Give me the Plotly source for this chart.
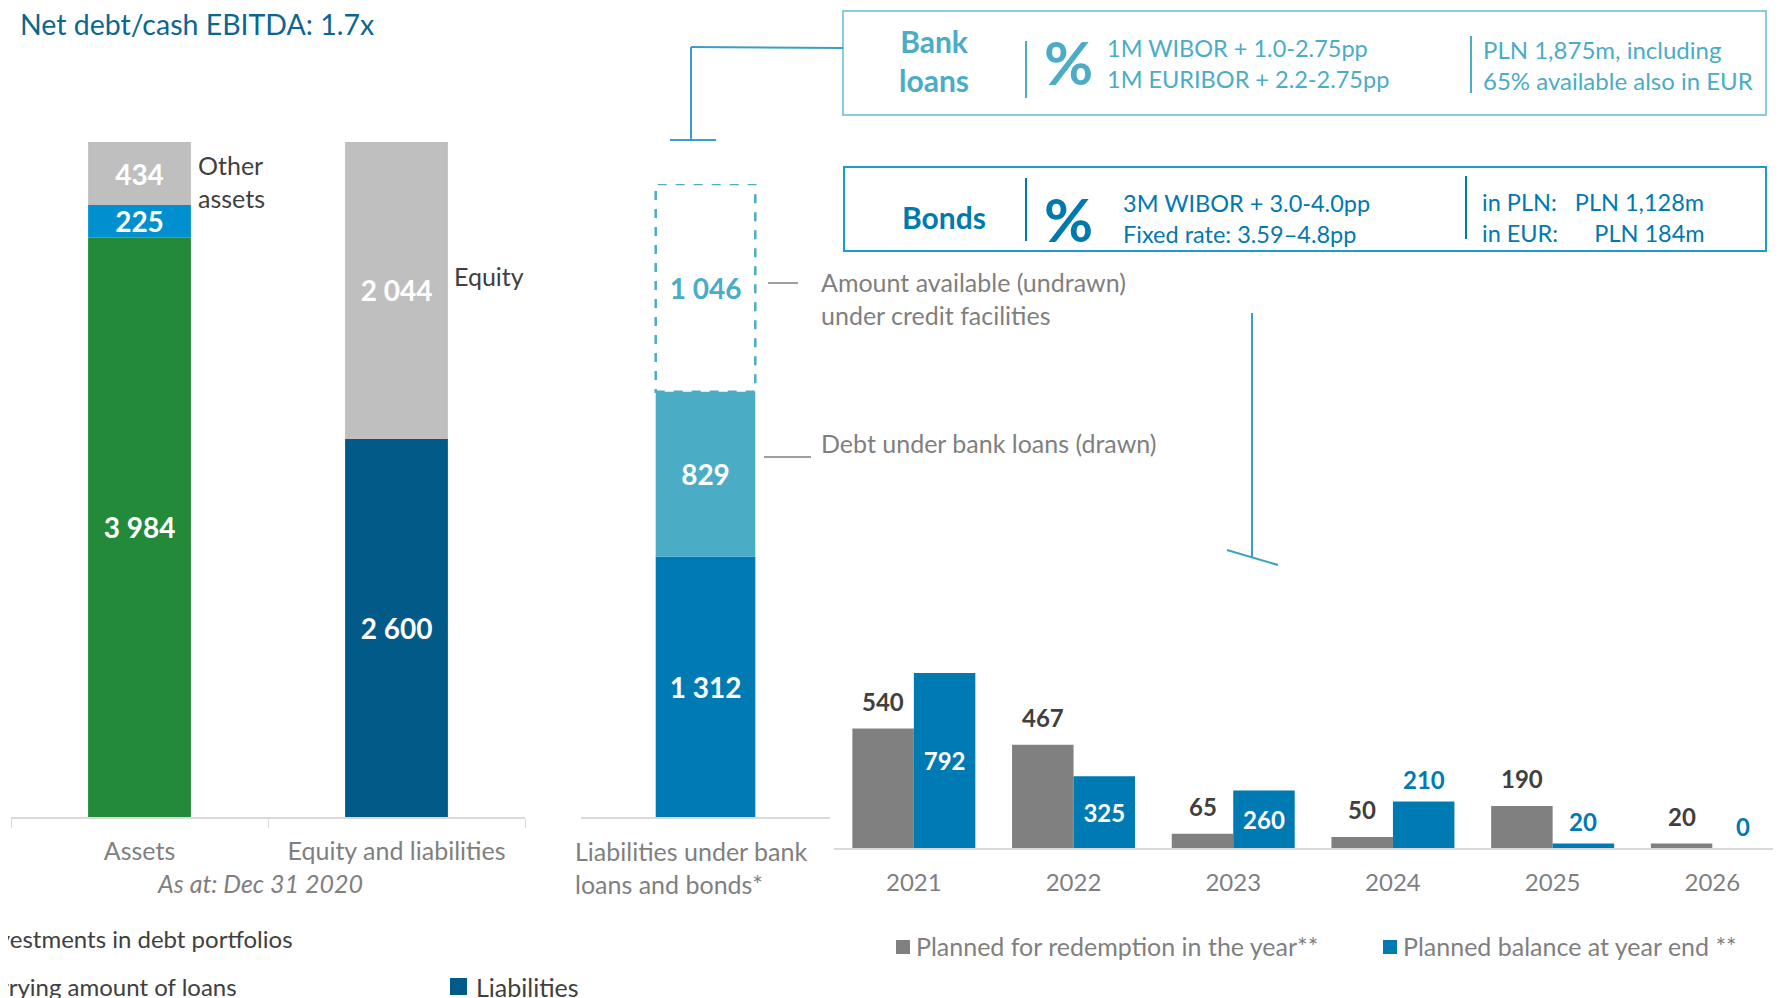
import plotly.graph_objects as go

# the page body keeps an 8px margin, so the figure is drawn 8px smaller and shifted
PAD = 8
W, H = 1781 - PAD, 998 - PAD
FONT = "Lato"

# balance sheet, PLN m, as at Dec 31 2020
bs_categories = ["Assets", "Equity and liabilities"]
asset_names = ["Investments in debt portfolios", "Carrying amount of loans", "Other assets"]
asset_values = [3984, 225, 434]
asset_colors = ["#238A3A", "#0090D0", "#BFBFBF"]
eq_names = ["Liabilities", "Equity"]
eq_values = [2600, 2044]
eq_colors = ["#015A87", "#BFBFBF"]

# liabilities under bank loans and bonds
debt_category = ["Liabilities under bank loans and bonds*"]
debt_names = ["Bonds", "Debt under bank loans (drawn)", "Amount available (undrawn) under credit facilities"]
debt_values = [1312, 829, 1046]
debt_colors = ["#007AB3", "#4BACC6", "rgba(0,0,0,0)"]

# redemption schedule
years = ["2021", "2022", "2023", "2024", "2025", "2026"]
redemption = [540, 467, 65, 50, 190, 20]
balance = [792, 325, 260, 210, 20, 0]


def fmt(v):
    return f"{v:,}".replace(",", " ")


def px(x):
    return (x - PAD) / W


def py(y):
    return 1 - (y - PAD) / H


fig = go.Figure()

val_font = dict(family=FONT, size=28, color="white", weight="bold")


def stack(category, names, values, colors, text_colors, xa, ya):
    # segments are stacked by hand so the grouped chart on the right is unaffected
    bottom = 0
    for name, v, c, tc in zip(names, values, colors, text_colors):
        fig.add_trace(go.Bar(
            x=[category], y=[v], base=[bottom], name=name, marker=dict(color=c, line_width=0),
            text=[fmt(v)], textposition="inside", insidetextanchor="middle", constraintext="none",
            textfont=dict(val_font, color=tc), width=0.4, offset=-0.2,
            xaxis=xa, yaxis=ya, hoverinfo="skip",
        ))
        bottom += v


stack(bs_categories[0], asset_names, asset_values, asset_colors, ["white"] * 3, "x", "y")
stack(bs_categories[1], eq_names, eq_values, eq_colors, ["white"] * 2, "x", "y")
stack(debt_category[0], debt_names, debt_values, debt_colors, ["white", "white", "#4BACC6"], "x2", "y2")

base = sum(debt_values[:2])
fig.add_shape(type="rect", xref="x2", yref="y2", x0=-0.2, x1=0.2, y0=base,
              y1=base + debt_values[2], line=dict(color="#4BACC6", width=2.5, dash="dash"))

# ---- right: redemption schedule (grouped pair)
BW = 0.385
fig.add_trace(go.Bar(
    x=years, y=redemption, name="Planned for redemption in the year**",
    marker=dict(color="#808080", line_width=0), width=BW, offset=-BW,
    xaxis="x3", yaxis="y3", hoverinfo="skip",
))
inside = [v >= 250 for v in balance]
fig.add_trace(go.Bar(
    x=years, y=balance, name="Planned balance at year end **",
    marker=dict(color="#007AB3", line_width=0), width=BW, offset=0,
    text=[fmt(v) if ok else "" for v, ok in zip(balance, inside)],
    textposition="inside", insidetextanchor="middle", constraintext="none",
    textfont=dict(family=FONT, size=24, color="white", weight="bold"),
    xaxis="x3", yaxis="y3", hoverinfo="skip",
))
for i, v in enumerate(redemption):
    fig.add_annotation(x=i - BW / 2, y=v, xref="x3", yref="y3", text=fmt(v), showarrow=False,
                       yanchor="middle", yshift=27,
                       font=dict(family=FONT, size=24, color="#404040", weight="bold"))
for i, (v, ok) in enumerate(zip(balance, inside)):
    if not ok:
        fig.add_annotation(x=i + BW / 2, y=v, xref="x3", yref="y3", text=fmt(v), showarrow=False,
                           yanchor="middle", yshift=22,
                           font=dict(family=FONT, size=24, color="#007AB3", weight="bold"))


def note(x, y, text, size, color, xanchor="left", bold=False, italic=False, align="left"):
    fig.add_annotation(
        x=px(x), y=py(y), xref="paper", yref="paper", text=text, showarrow=False,
        xanchor=xanchor, yanchor="middle", align=align,
        font=dict(family=FONT, size=size, color=color,
                  weight="bold" if bold else "normal", style="italic" if italic else "normal"),
    )


def line(x0, y0, x1, y1, color, width=1.5, dash="solid"):
    fig.add_shape(type="line", xref="paper", yref="paper", x0=px(x0), y0=py(y0), x1=px(x1), y1=py(y1),
                  line=dict(color=color, width=width, dash=dash))


def square(x0, y0, size, color):
    fig.add_shape(type="rect", xref="paper", yref="paper", x0=px(x0), y0=py(y0 + size),
                  x1=px(x0 + size), y1=py(y0), line_width=0, fillcolor=color)


GRAY_TXT = "#7F7F7F"
DARK_TXT = "#404040"

# titles and side notes
note(18, 24, "Net debt/cash EBITDA: 1.7x", 28.5, "#0B6690")
note(196, 181, "Other<br>assets", 25, DARK_TXT)
note(452, 276, "Equity", 25, DARK_TXT)
note(260, 883, "As at: Dec 31 2020", 25, GRAY_TXT, xanchor="center", italic=True)
note(573, 867, "Liabilities under bank<br>loans and bonds*", 25, GRAY_TXT)

# pointers next to the debt bar
line(768, 283, 798, 283, GRAY_TXT, 1.5)
note(819, 298, "Amount available (undrawn)<br>under credit facilities", 25, GRAY_TXT)
line(764, 457, 811, 457, GRAY_TXT, 1.5)
note(819, 443, "Debt under bank loans (drawn)", 25, GRAY_TXT)

# bank loans box
fig.add_shape(type="rect", xref="paper", yref="paper", x0=px(843), x1=px(1766), y0=py(115), y1=py(11),
              line=dict(color="#8ACCDD", width=2))
note(934, 60, "Bank<br>loans", 30, "#4BACC6", xanchor="center", bold=True, align="center")
line(1026, 41, 1026, 98, "#4BACC6", 2)
note(1068, 62, "%", 60, "#4BACC6", xanchor="center", bold=True)
note(1105, 63, "1M WIBOR + 1.0-2.75pp<br>1M EURIBOR + 2.2-2.75pp", 23.5, "#4BACC6")
line(1471, 36, 1471, 93, "#4BACC6", 2)
note(1481, 65, "PLN 1,875m, including<br>65% available also in EUR", 24, "#4BACC6")

# bonds box
fig.add_shape(type="rect", xref="paper", yref="paper", x0=px(844), x1=px(1766), y0=py(251), y1=py(167),
              line=dict(color="#1E9AD2", width=2))
note(944, 217, "Bonds", 30, "#0079B0", xanchor="center", bold=True)
line(1026, 178, 1026, 241, "#0079B0", 2)
note(1068, 219, "%", 60, "#0079B0", xanchor="center", bold=True)
note(1121, 218, "3M WIBOR + 3.0-4.0pp<br>Fixed rate: 3.59–4.8pp", 23.5, "#0079B0")
line(1466, 176, 1466, 239, "#0079B0", 2)
note(1480, 217, "in PLN:   PLN 1,128m<br>in EUR:      PLN 184m", 23.5, "#0079B0")

# connectors
line(843, 48, 691, 47, "#3A9FC8", 2)
line(691, 47, 691, 140, "#3A9FC8", 2)
line(670, 140, 716, 140, "#3A9FC8", 2)
line(1252, 313, 1252, 557, "#3A9FC8", 2)
line(1227, 550, 1278, 565, "#3A9FC8", 2)

# legends (partly cut off at the slide edge)
note(295, 938, "Investments in debt portfolios", 24, DARK_TXT, xanchor="right")
note(239, 986, "Carrying amount of loans", 24, DARK_TXT, xanchor="right")
square(450, 978, 17, "#015A87")
note(474, 987, "Liabilities", 25, DARK_TXT)
square(896, 940, 14, "#808080")
note(914, 946, "Planned for redemption in the year**", 25, GRAY_TXT)
square(1383, 940, 14, "#007AB3")
note(1401, 946, "Planned balance at year end **", 25, GRAY_TXT)

fig.update_layout(
    width=W, height=H, margin=dict(l=0, r=0, t=0, b=0),
    paper_bgcolor="white", plot_bgcolor="white", showlegend=False,
    barmode="group",
    xaxis=dict(domain=[px(11), px(525)], type="category", categoryorder="array", categoryarray=bs_categories,
               showline=True, linecolor="#D9D9D9", linewidth=1.5, ticks="outside", tickson="boundaries",
               ticklen=9, tickcolor="#D9D9D9", tickfont=dict(family=FONT, size=25, color=GRAY_TXT),
               ticklabelstandoff=11),
    yaxis=dict(domain=[py(817), py(142)], range=[0, sum(asset_values)], visible=False),
    xaxis2=dict(domain=[px(581), px(830)], type="category", showline=True, linecolor="#D9D9D9",
                linewidth=1.5, showticklabels=False, anchor="y2"),
    yaxis2=dict(domain=[py(817), py(184)], range=[0, sum(debt_values)], visible=False, anchor="x2"),
    xaxis3=dict(domain=[px(834), 1.0], type="category", range=[-0.5, 5.43], showline=True,
                linecolor="#D9D9D9", linewidth=2, tickfont=dict(family=FONT, size=24, color=GRAY_TXT),
                ticklabelstandoff=12, anchor="y3"),
    yaxis3=dict(domain=[py(848), py(649)], range=[0, 900], visible=False, anchor="x3"),
)

fig.write_html("out.html")
